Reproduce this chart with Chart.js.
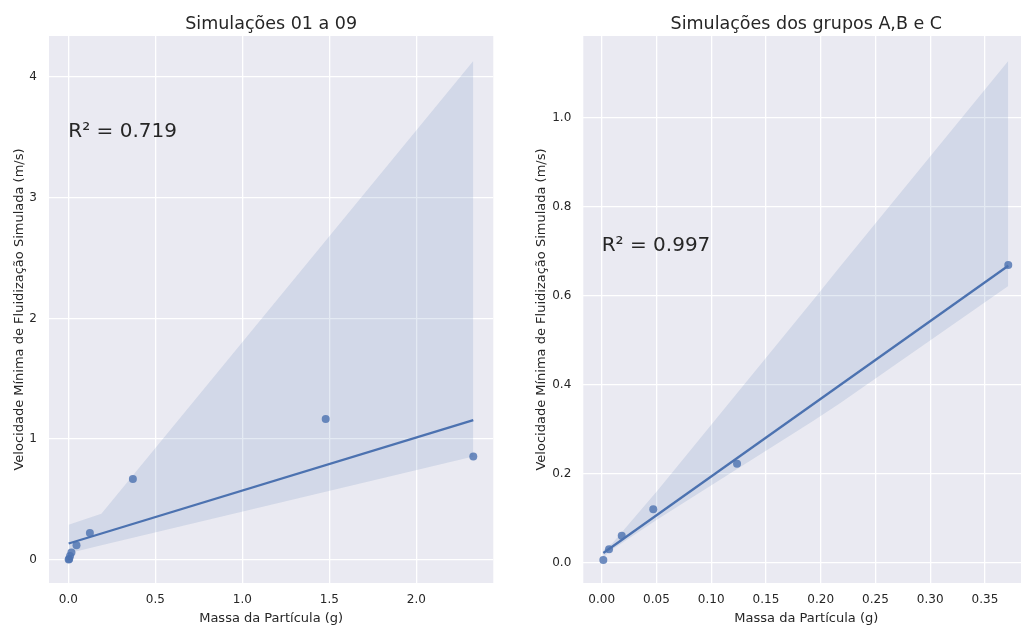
<!DOCTYPE html>
<html><head><meta charset="utf-8">
<script src="https://cdn.jsdelivr.net/npm/chart.js@4/dist/chart.umd.min.js"></script>
<style>
html,body{margin:0;padding:0;background:#fff;overflow:hidden;width:1021px;height:625px;position:relative;}
.box{position:absolute;top:0;height:625px;}
canvas{display:block;}
</style></head><body>
<div class="box" id="b1" style="left:0;width:500px"><canvas id="c1" width="500" height="625"></canvas></div>
<div class="box" id="b2" style="left:522px;width:512px"><canvas id="c2" width="512" height="625"></canvas></div>
<script>
// ---------- text ----------
const titleLeft = 'Simulações 01 a 09';
const titleRight = 'Simulações dos grupos A,B e C';
const xAxisLabel = 'Massa da Partícula (g)';
const yAxisLabel = 'Velocidade Mínima de Fluidização Simulada (m/s)';
const r2Left = 'R² = 0.719';
const r2Right = 'R² = 0.997';

// ---------- left panel data (simulações 01 a 09) ----------
const massLeft = [0.002, 0.005, 0.010, 0.018, 0.047, 0.124, 0.371, 1.479, 2.327];
const velLeft  = [0.002, 0.006, 0.030, 0.060, 0.120, 0.222, 0.669, 1.166, 0.856];
// confidence band
const bandXLeft  = [0.002, 0.19, 2.327];
const bandUpLeft = [0.29, 0.38, 4.134];
const bandLoLeft = [0.054, 0.119, 0.856];
const xTicksLeft = [0.0, 0.5, 1.0, 1.5, 2.0];
const yTicksLeft = [0, 1, 2, 3, 4];

// ---------- right panel data (grupos A, B e C) ----------
const massRight = [0.0015, 0.0067, 0.0183, 0.0471, 0.1236, 0.3713];
const velRight  = [0.0056, 0.030, 0.060, 0.120, 0.222, 0.669];
const bandXRight  = [0.0015, 0.010, 0.0514, 0.193, 0.2176, 0.3713];
const bandUpRight = [0.028, 0.044, 0.163, 0.590, 0.665, 1.128];
const bandLoRight = [0.012, 0.030, 0.098, 0.318, 0.358, 0.622];
const xTicksRight = [0.00, 0.05, 0.10, 0.15, 0.20, 0.25, 0.30, 0.35];
const yTicksRight = [0.0, 0.2, 0.4, 0.6, 0.8, 1.0];

// ---------- helpers ----------
const BLUE = '#4C72B0';
const TXT = '#262626';
Chart.defaults.font.family = '"DejaVu Sans", sans-serif';
Chart.defaults.color = TXT;

function fitLine(xs, ys){
  const n = xs.length;
  const mx = xs.reduce((a,b)=>a+b,0)/n, my = ys.reduce((a,b)=>a+b,0)/n;
  let sxy=0, sxx=0;
  for(let i=0;i<n;i++){ sxy+=(xs[i]-mx)*(ys[i]-my); sxx+=(xs[i]-mx)*(xs[i]-mx); }
  const m = sxy/sxx, b = my - m*mx;
  const x0 = Math.min(...xs), x1 = Math.max(...xs);
  return [{x:x0,y:b+m*x0},{x:x1,y:b+m*x1}];
}
const pts = (xs, ys) => xs.map((x,i)=>({x, y:ys[i]}));

const bgPlugin = {id:'bg', beforeDraw(chart){
  const {ctx, chartArea:a} = chart;
  ctx.save(); ctx.fillStyle = '#EAEAF2';
  ctx.fillRect(a.left, a.top, a.right-a.left, a.bottom-a.top); ctx.restore();
}};
const r2Plugin = {id:'r2', afterDatasetsDraw(chart, args, o){
  const {ctx} = chart;
  const x = chart.scales.x.getPixelForValue(o.x), y = chart.scales.y.getPixelForValue(o.y);
  ctx.save(); ctx.font = '20px "DejaVu Sans", sans-serif'; ctx.fillStyle = TXT;
  ctx.textAlign = 'left'; ctx.textBaseline = 'alphabetic';
  ctx.fillText(o.text, x, y); ctx.restore();
}};

function makeChart(id, c){
  new Chart(document.getElementById(id), {
    type: 'line',
    data: { datasets: [
      { data: pts(c.mass, c.vel), showLine:false, pointRadius:4, pointHoverRadius:4,
        pointBackgroundColor:'rgba(76,114,176,0.8)', pointBorderWidth:0, order:3 },
      { data: pts(c.bandX, c.bandUp), fill:'+1', backgroundColor:'rgba(76,114,176,0.15)',
        borderColor:'transparent', borderWidth:0, pointRadius:0, order:2 },
      { data: pts(c.bandX, c.bandLo), fill:false, borderColor:'transparent', borderWidth:0, pointRadius:0, order:2 },
      { data: fitLine(c.mass, c.vel), fill:false, borderColor:BLUE, borderWidth:2.3, pointRadius:0, order:1 }
    ]},
    options: {
      responsive:false, animation:false, events:[],
      layout:{ padding:{ left:0, right:c.padRight, top:0, bottom:0 } },
      plugins:{
        legend:{display:false}, tooltip:{enabled:false},
        title:{ display:true, text:c.title, fullSize:false, color:TXT,
          font:{size:17.5, weight:'normal'}, padding:{top:14, bottom:1} },
        r2:{ text:c.r2, x:c.r2x, y:c.r2y }
      },
      scales:{
        x:{ type:'linear', min:c.xMin, max:c.xMax,
          afterFit:(s)=>{ s.height = 42; },
          afterBuildTicks:(s)=>{ s.ticks = c.xTicks.map(v=>({value:v})); },
          ticks:{ callback:(v)=>Number(v).toFixed(c.xDec), font:{size:12}, color:TXT, padding:10, maxRotation:0, autoSkip:false },
          grid:{ color:'#ffffff', lineWidth:1.3, drawTicks:false },
          border:{ display:false },
          title:{ display:true, text:xAxisLabel, font:{size:13}, color:TXT, padding:{top:0,bottom:-1.5} }
        },
        y:{ type:'linear', min:c.yMin, max:c.yMax,
          afterFit:(s)=>{ s.width = c.yWidth; },
          afterBuildTicks:(s)=>{ s.ticks = c.yTicks.map(v=>({value:v})); },
          ticks:{ callback:(v)=>Number(v).toFixed(c.yDec), font:{size:12}, color:TXT, padding:12, autoSkip:false },
          grid:{ color:'#ffffff', lineWidth:1.3, drawTicks:false },
          border:{ display:false },
          title:{ display:true, text:yAxisLabel, font:{size:13}, color:TXT, padding:{top:11.7,bottom:0} }
        }
      }
    },
    plugins:[bgPlugin, r2Plugin]
  });
}

makeChart('c1', { mass:massLeft, vel:velLeft, bandX:bandXLeft, bandUp:bandUpLeft, bandLo:bandLoLeft,
  xTicks:xTicksLeft, yTicks:yTicksLeft, xDec:1, yDec:0,
  xMin:-0.111, xMax:2.442, yMin:-0.193, yMax:4.341,
  title:titleLeft, r2:r2Left, r2x:0, r2y:3.5, yWidth:49, padRight:6.7 });

makeChart('c2', { mass:massRight, vel:velRight, bandX:bandXRight, bandUp:bandUpRight, bandLo:bandLoRight,
  xTicks:xTicksRight, yTicks:yTicksRight, xDec:2, yDec:1,
  xMin:-0.0168, xMax:0.3905, yMin:-0.046, yMax:1.184,
  title:titleRight, r2:r2Right, r2x:0, r2y:0.70, yWidth:61.3, padRight:4.7 });
</script>
</body></html>
